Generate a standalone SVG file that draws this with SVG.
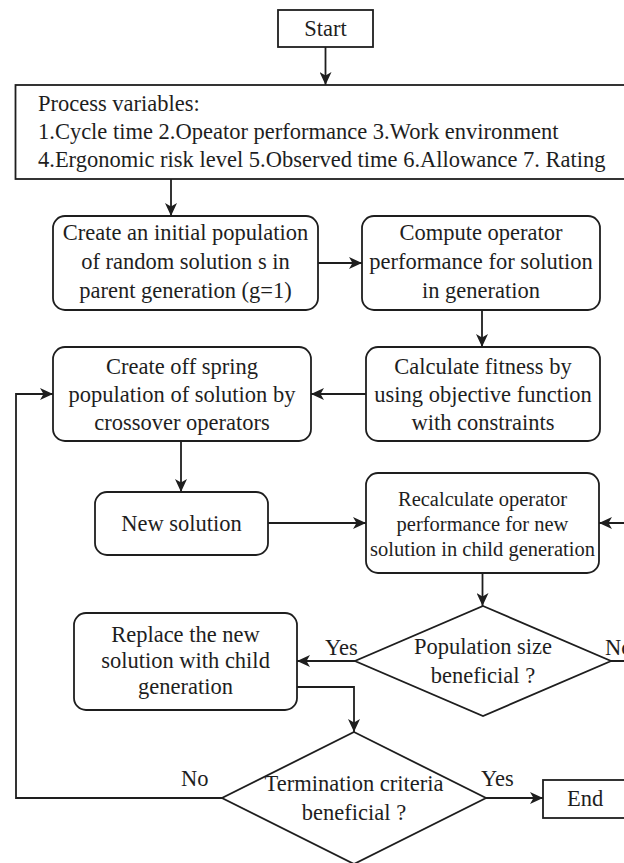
<svg xmlns="http://www.w3.org/2000/svg" width="624" height="863" viewBox="0 0 624 863">
<style>
  .box{fill:#fff;stroke:#1e1e1e;stroke-width:1.8}
  .ln{fill:none;stroke:#1e1e1e;stroke-width:1.8}
  text{font-family:"Liberation Serif","Times New Roman",serif;font-size:22.5px;fill:#1e1e1e}
  .c{text-anchor:middle}
  .s{font-size:20.5px}
</style>
<defs>
  <marker id="ah" markerUnits="userSpaceOnUse" markerWidth="14" markerHeight="12" refX="13" refY="6" orient="auto">
    <path d="M0,0 L13,6 L0,12 L3.5,6 Z" fill="#1e1e1e"/>
  </marker>
</defs>
<rect width="624" height="863" fill="#fff"/>
<g id="connectors">
  <path class="ln" d="M325.5,47 V85" marker-end="url(#ah)"/>
  <path class="ln" d="M171,179 V216" marker-end="url(#ah)"/>
  <path class="ln" d="M318,263 H362" marker-end="url(#ah)"/>
  <path class="ln" d="M482,310 V347" marker-end="url(#ah)"/>
  <path class="ln" d="M366,394 H311" marker-end="url(#ah)"/>
  <path class="ln" d="M181,441 V492" marker-end="url(#ah)"/>
  <path class="ln" d="M268,523 H366" marker-end="url(#ah)"/>
  <path class="ln" d="M611,661 H640 V523 H599" marker-end="url(#ah)"/>
  <path class="ln" d="M482.5,573 V606" marker-end="url(#ah)"/>
  <path class="ln" d="M355,661 H297" marker-end="url(#ah)"/>
  <path class="ln" d="M297,687 H354 V732" marker-end="url(#ah)"/>
  <path class="ln" d="M222,798 H16 V394 H53" marker-end="url(#ah)"/>
  <path class="ln" d="M486,798 H543" marker-end="url(#ah)"/>
  <text x="325" y="655">Yes</text>
  <text x="605" y="655">No</text>
  <text x="181" y="786">No</text>
  <text x="481" y="786">Yes</text>
</g>
<g id="start">
  <rect class="box" x="278" y="10" width="95" height="37"/>
  <text class="c" x="325.5" y="36">Start</text>
</g>
<g id="process-variables">
  <rect class="box" x="15.5" y="85" width="620" height="94"/>
  <text x="38" y="111">Process variables:</text>
  <text x="38" y="139">1.Cycle time 2.Opeator performance 3.Work environment</text>
  <text x="38" y="167">4.Ergonomic risk level 5.Observed time 6.Allowance 7. Rating</text>
</g>
<g id="initial-population">
  <rect class="box" x="53" y="216" width="265" height="94" rx="12"/>
  <text class="c" x="185.5" y="240">Create an initial population</text>
  <text class="c" x="185.5" y="269">of random solution s in</text>
  <text class="c" x="185.5" y="298">parent generation (g=1)</text>
</g>
<g id="compute-performance">
  <rect class="box" x="362" y="216" width="238" height="94" rx="12"/>
  <text class="c" x="481" y="240">Compute operator</text>
  <text class="c" x="481" y="269">performance for solution</text>
  <text class="c" x="481" y="298">in generation</text>
</g>
<g id="calculate-fitness">
  <rect class="box" x="366" y="347" width="234" height="94" rx="12"/>
  <text class="c" x="483" y="374">Calculate fitness by</text>
  <text class="c" x="483" y="402">using objective function</text>
  <text class="c" x="483" y="430">with constraints</text>
</g>
<g id="create-offspring">
  <rect class="box" x="53" y="347" width="258" height="94" rx="12"/>
  <text class="c" x="182" y="374">Create off spring</text>
  <text class="c" x="182" y="402">population of solution by</text>
  <text class="c" x="182" y="430">crossover operators</text>
</g>
<g id="new-solution">
  <rect class="box" x="95" y="492" width="173" height="63" rx="12"/>
  <text class="c" x="181.5" y="531">New solution</text>
</g>
<g id="recalculate">
  <rect class="box" x="366" y="473" width="233" height="100" rx="12"/>
  <text class="c s" x="482.5" y="506">Recalculate operator</text>
  <text class="c s" x="482.5" y="531">performance for new</text>
  <text class="c s" x="482.5" y="556">solution in child generation</text>
</g>
<g id="population-decision">
  <path class="box" d="M483,606 L611,661 L483,716 L355,661 Z"/>
  <text class="c" x="483" y="654">Population size</text>
  <text class="c" x="483" y="683">beneficial ?</text>
</g>
<g id="replace">
  <rect class="box" x="74" y="613" width="223" height="97" rx="12"/>
  <text class="c" x="185.5" y="642">Replace the new</text>
  <text class="c" x="185.5" y="668">solution with child</text>
  <text class="c" x="185.5" y="694">generation</text>
</g>
<g id="termination-decision">
  <path class="box" d="M354,732 L486,798 L354,864 L222,798 Z"/>
  <text class="c" x="354" y="791">Termination criteria</text>
  <text class="c" x="354" y="820">beneficial ?</text>
</g>
<g id="end">
  <rect class="box" x="543" y="780" width="100" height="38"/>
  <text x="567" y="806">End</text>
</g>
</svg>
